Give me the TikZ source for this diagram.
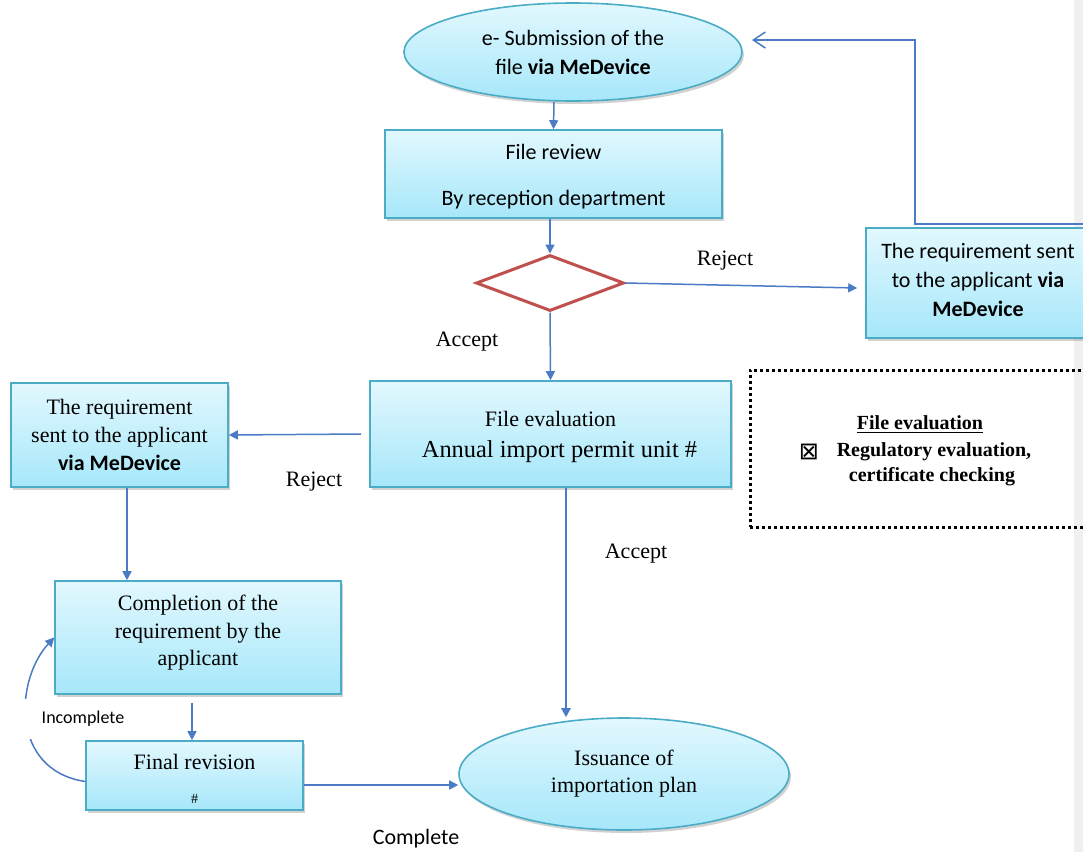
\documentclass[tikz,border=0pt]{standalone}
\usepackage{fontspec}
\setmainfont{Liberation Serif}
\newfontfamily\calfont{Carlito}
\newfontfamily\symfont{DejaVu Sans}
\usetikzlibrary{shapes.geometric,arrows.meta,shadows}
\definecolor{arrowblue}{HTML}{4A7BC4}
\definecolor{boxedge}{HTML}{4BACC6}
\definecolor{boxtop}{HTML}{E2F8FE}
\definecolor{boxbot}{HTML}{A6E7FA}
\definecolor{diared}{HTML}{C0504D}
\definecolor{stripgrey}{HTML}{F0F0F0}
\begin{document}
\begin{tikzpicture}[x=0.5pt,y=-0.5pt,
  shade/.style={top color=boxtop, bottom color=boxbot, draw=boxedge, line width=0.8pt,
    drop shadow={shadow xshift=1pt, shadow yshift=-1.5pt, opacity=0.35}},
  box/.style={rectangle, shade, inner sep=0pt, align=center, font=\fontsize{11}{14}\selectfont},
  ell/.style={ellipse, shade, inner sep=0pt, align=center, font=\fontsize{11}{13.5}\selectfont},
  sans/.style={font=\calfont\fontsize{11}{14.5}\selectfont},
  txt/.style={inner sep=0pt, align=center, font=\fontsize{11}{13.75}\selectfont},
  lbl/.style={inner sep=0pt, font=\fontsize{11}{13}\selectfont},
  legtxt/.style={inner sep=0pt, font=\bfseries\fontsize{10}{12}\selectfont},
  conn/.style={draw=arrowblue, line width=0.75pt, -{Triangle[length=4.5pt,width=4.5pt]}},
  fbconn/.style={draw=arrowblue, line width=0.75pt, -{Straight Barb[length=6pt,width=8pt]}}
]
\fill[white] (0,0) rectangle (1083,852);
\useasboundingbox (0,0) rectangle (1083,852);
\fill[stripgrey] (1074,0) rectangle (1083,852);

% nodes
\node[ell, sans, minimum width=169pt, minimum height=49pt] (sub) at (573,52)
  {e- Submission of the\\file \textbf{via MeDevice}};
\node[box, minimum width=168.5pt, minimum height=44pt] (review) at (553.5,174) {};
\node[txt, sans] (reviewt) at (553.5,177) {File review\\[8.5pt]By reception department};
\node[diamond, draw=diared, line width=1.5pt, minimum width=74pt, minimum height=28pt, inner sep=0pt] (dia) at (550,283) {};
\node[box, minimum width=112pt, minimum height=55pt] (rbox) at (978,283) {};
\node[txt, sans] (rboxt) at (978,280)
  {The requirement sent\\to the applicant \textbf{via}\\\textbf{MeDevice}};
\node[box, minimum width=180.5pt, minimum height=53pt] (feval) at (550.5,434) {};
\node[txt, font=\fontsize{11}{15.5}\selectfont] (fevalt) at (550.5,437)
  {File evaluation\\\hspace*{9pt}{\fontsize{12.2}{15.5}\selectfont Annual import permit unit \#}};
\node[box, minimum width=108.5pt, minimum height=52pt] (lbox) at (119.5,435)
  {The requirement\\sent to the applicant\\{\calfont\bfseries via MeDevice}};
\node[box, minimum width=143pt, minimum height=56.5pt] (comp) at (198,637.5) {};
\node[txt] (compt) at (198,633) {Completion of the\\requirement by the\\applicant};
\node[box, minimum width=108.5pt, minimum height=34.5pt] (final) at (194.5,775.5) {};
\node[txt] (finalt) at (194.5,779) {Final revision\\[3pt]{\fontsize{7}{8}\selectfont\#}};
\node[ell, minimum width=165pt, minimum height=56pt] (iss) at (624,774)
  {Issuance of\\importation plan};

% legend
\node[draw=black, line width=1.5pt, dash pattern=on 1.5pt off 1.5pt, minimum width=172.5pt, minimum height=78.5pt, inner sep=0pt] (legend) at (922.5,448.5) {};
\node[legtxt] (lt1) at (920,425) {\underline{File evaluation}};
\node[inner sep=0pt, font=\symfont\fontsize{12}{14}\selectfont] (lsym) at (809,452) {⊠};
\node[legtxt] (lt2) at (934,452) {Regulatory evaluation,};
\node[legtxt] (lt3) at (932,477) {certificate checking};

% labels
\node[lbl] (rej1) at (725,261) {Reject};
\node[lbl] (acc1) at (467,342) {Accept};
\node[lbl] (rej2) at (314,482) {Reject};
\node[lbl] (acc2) at (636,554) {Accept};
\node[lbl, font=\calfont\fontsize{11}{13}\selectfont] (cmpl) at (416,839) {Complete};

% connectors
\draw[conn] ([xshift=-9.5pt]sub.south) -- (review.north);
\draw[conn] (review.south -| dia.north) -- (dia.north);
\draw[conn] (dia.east) -- ([xshift=-4pt,yshift=-2.5pt]rbox.west);
\draw[conn] (dia.south) -- (feval.north);
\draw[conn] ([xshift=-4pt]feval.west) -- (lbox.east);
\draw[conn] ([xshift=3.75pt]lbox.south) -- ([xshift=3.75pt]lbox.south |- comp.north);
\draw[conn] ([xshift=-3pt,yshift=-4pt]comp.south) -- ([xshift=-3pt]comp.south |- final.north);
\draw[conn] ([yshift=-3pt]final.west) .. controls (10,770) and (15,680) .. (comp.west);
\draw[conn] ([yshift=-4.75pt]final.east) -- ([yshift=-4.75pt]final.east -| iss.west);
\draw[conn, line width=1.2pt] ([xshift=7.75pt]feval.south) -- ([xshift=7.75pt]feval.south |- iss.north);
\coordinate (fbturn) at (915,40);
\coordinate (fbend) at (752,40);
\draw[fbconn] ([yshift=1.5pt]rbox.north east) -| (fbturn) -- (fbend);

\node[lbl, font=\calfont\fontsize{9}{11}\selectfont, fill=white, minimum width=62pt, minimum height=20pt] (inc) at (83,719) {Incomplete};
\end{tikzpicture}
\end{document}
